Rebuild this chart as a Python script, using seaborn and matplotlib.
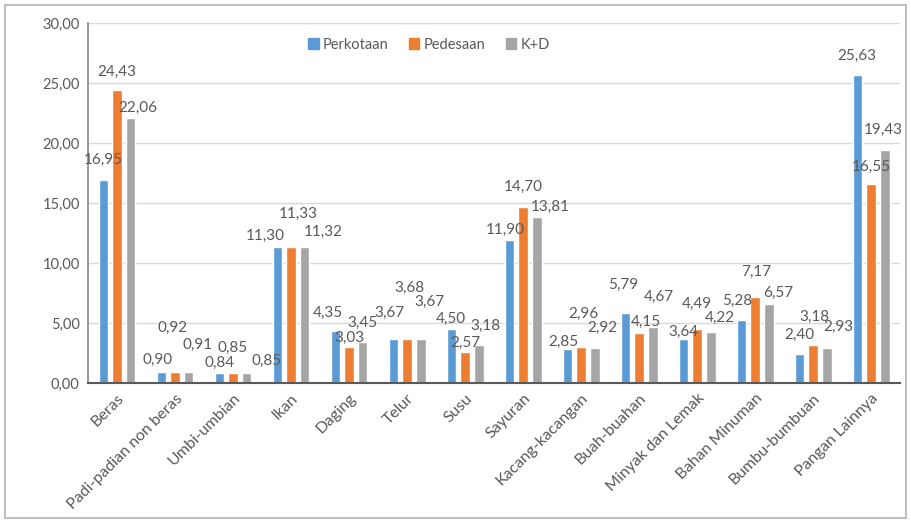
import matplotlib
matplotlib.use("Agg")
import matplotlib.pyplot as plt
import matplotlib.patches as mpatches
import pandas as pd
import seaborn as sns

# ── Données ─────────────────────────────────────────────────────────────
categories = ["Beras", "Padi-padian non beras", "Umbi-umbian", "Ikan", "Daging",
              "Telur", "Susu", "Sayuran", "Kacang-kacangan", "Buah-buahan",
              "Minyak dan Lemak", "Bahan Minuman", "Bumbu-bumbuan", "Pangan Lainnya"]
perkotaan = [16.95, 0.90, 0.84, 11.30, 4.35, 3.67, 4.50, 11.90, 2.85, 5.79, 3.64, 5.28, 2.40, 25.63]
pedesaan  = [24.43, 0.92, 0.85, 11.33, 3.03, 3.68, 2.57, 14.70, 2.96, 4.15, 4.49, 7.17, 3.18, 16.55]
kd        = [22.06, 0.91, 0.85, 11.32, 3.45, 3.67, 3.18, 13.81, 2.92, 4.67, 4.22, 6.57, 2.93, 19.43]
series    = ["Perkotaan", "Pedesaan", "K+D"]
yticks    = [0, 5, 10, 15, 20, 25, 30]

colors = {"Perkotaan": "#5B9BD5", "Pedesaan": "#ED7D31", "K+D": "#A5A5A5"}
txt_col = "#595959"

# décalage des étiquettes (px : dx, dy au-dessus du haut de la barre), placées à la main comme dans l'original
label_off = {
    "Perkotaan": [(0, 20), (-4, 12), (0, 10), (-12, 11), (-8, 18), (-4, 26), (-1, 10),
                  (-4, 10), (-4, 7), (-2, 29), (0, 7), (-4, 19), (0, 19), (-1, 19)],
    "Pedesaan":  [(0, 18), (-2, 44), (0, 25), (7, 33), (0, 9), (2, 51), (0, 9),
                  (0, 20), (2, 34), (7, 11), (0, 25), (1, 25), (1, 28), (0, 17)],
    "K+D":       [(7, 10), (9, 27), (20, 12), (19, 15), (0, 19), (9, 37), (7, 19),
                  (14, 10), (8, 20), (6, 30), (9, 14), (10, 11), (12, 21), (-1, 20)],
}

df = pd.DataFrame({
    "kategori": categories * 3,
    "seri": sum([[s] * len(categories) for s in series], []),
    "nilai": perkotaan + pedesaan + kd,
})

sns.set_theme(style="white")
plt.rcParams["font.family"] = ["Lato", "DejaVu Sans"]

fig = plt.figure(figsize=(9.11, 5.21), dpi=100)
ax = fig.add_axes([0.0966, 0.265, 0.8914, 0.691])

sns.barplot(data=df, x="kategori", y="nilai", hue="seri", palette=colors,
            order=categories, hue_order=series, width=0.7, gap=0.27,
            ax=ax, saturation=1, errorbar=None)

# étiquettes de valeur
px2pt = 72 / fig.dpi
for cont, s in zip(ax.containers, series):
    for bar, (dx, dy) in zip(cont, label_off[s]):
        v = bar.get_height()
        ax.annotate(f"{v:.2f}".replace(".", ","),
                    xy=(bar.get_x() + bar.get_width() / 2, v),
                    xytext=(dx * px2pt, dy * px2pt), textcoords="offset points",
                    ha="center", va="center", fontsize=11, color=txt_col)

ax.set_ylim(0, 30)
ax.set_xlim(-0.5, len(categories) - 0.5)
ax.set_yticks(yticks)
ax.set_yticklabels([f"{t:.2f}".replace(".", ",") for t in yticks], fontsize=10.5, color=txt_col)
ax.set_xticks(range(len(categories)))
ax.set_xticklabels(categories, rotation=45, ha="right", rotation_mode="anchor",
                   fontsize=11.5, color=txt_col)
ax.tick_params(axis="both", length=0, pad=6)
ax.set_xlabel("")
ax.set_ylabel("")
ax.yaxis.grid(True, color="#D9D9D9", lw=1)
ax.set_axisbelow(True)
for side in ["top", "right"]:
    ax.spines[side].set_visible(False)
ax.spines["left"].set_color("#8C8C8C")
ax.spines["bottom"].set_color("#595959")
ax.spines["bottom"].set_linewidth(1.5)

ax.legend(handles=[mpatches.Patch(color=colors[s], label=s) for s in series],
          loc="center", bbox_to_anchor=(0.42, 0.94), ncol=3, frameon=False,
          fontsize=10.5, handlelength=0.7, handleheight=0.7, handletextpad=0.3,
          columnspacing=1.4, labelcolor=txt_col)

# cadre extérieur
fig.patches.append(mpatches.Rectangle((0.006, 0.006), 0.988, 0.984, transform=fig.transFigure,
                                      fill=False, edgecolor="#BFBFBF", lw=1.5))

fig.savefig("out.png", dpi=100)
